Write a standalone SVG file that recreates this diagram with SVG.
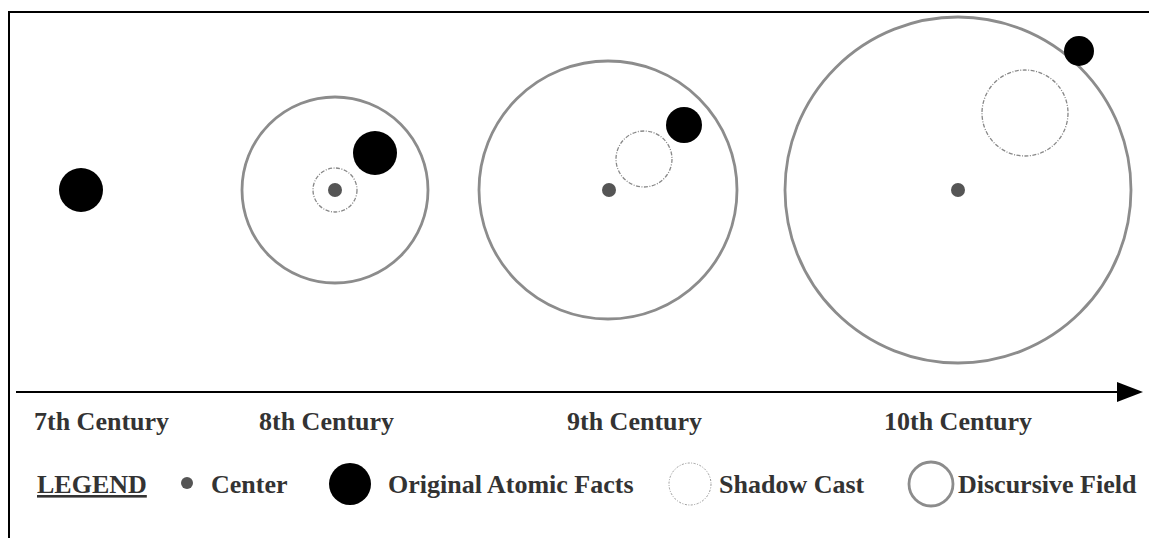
<svg xmlns="http://www.w3.org/2000/svg" width="1149" height="538" viewBox="0 0 1149 538">
<defs>
<style>
.field{fill:none;stroke:#8c8c8c;stroke-width:2.8}
.shadow{fill:none;stroke:#888;stroke-width:1.3;stroke-dasharray:4 1.5 1 1.5}
.lshadow{fill:none;stroke:#999;stroke-width:1;stroke-dasharray:2 1.5 1 1.5}
.fact{fill:#000}
.center{fill:#555}
.lbl{font-family:"Liberation Serif","Times New Roman",serif;font-weight:bold;font-size:26px;fill:#333}
</style>
</defs>
<rect x="0" y="0" width="1149" height="538" fill="#fff"/>
<path d="M9,538 V12 H1149" fill="none" stroke="#000" stroke-width="2"/>
<g id="connectors">
<line x1="16" y1="392" x2="1120" y2="392" stroke="#000" stroke-width="2"/>
<path d="M1117,382 L1143,392 L1117,402 Z" fill="#000"/>
</g>
<g id="c7">
<circle class="fact" cx="81" cy="190" r="22"/>
<text class="lbl" x="34" y="430">7th Century</text>
</g>
<g id="c8">
<circle class="field" cx="335" cy="190" r="93"/>
<circle class="shadow" cx="335" cy="190" r="22"/>
<circle class="center" cx="335" cy="190" r="7"/>
<circle class="fact" cx="375" cy="153" r="22"/>
<text class="lbl" x="259" y="430">8th Century</text>
</g>
<g id="c9">
<circle class="field" cx="608" cy="190" r="129"/>
<circle class="shadow" cx="644" cy="159" r="28"/>
<circle class="center" cx="609" cy="190" r="7"/>
<circle class="fact" cx="684" cy="125" r="18"/>
<text class="lbl" x="567" y="430">9th Century</text>
</g>
<g id="c10">
<circle class="field" cx="958" cy="190" r="173"/>
<circle class="shadow" cx="1025" cy="113" r="43"/>
<circle class="center" cx="958" cy="190" r="7"/>
<circle class="fact" cx="1079" cy="51" r="15"/>
<text class="lbl" x="884" y="430">10th Century</text>
</g>
<g id="legend">
<text class="lbl" x="37" y="493" text-decoration="underline">LEGEND</text>
<circle class="center" cx="187" cy="483" r="6"/>
<text class="lbl" x="211" y="493">Center</text>
<circle class="fact" cx="350" cy="484" r="21"/>
<text class="lbl" x="388" y="493">Original Atomic Facts</text>
<circle class="lshadow" cx="690" cy="484" r="21"/>
<text class="lbl" x="719" y="493">Shadow Cast</text>
<circle class="field" cx="931" cy="484" r="22"/>
<text class="lbl" x="958" y="493">Discursive Field</text>
</g>
</svg>
